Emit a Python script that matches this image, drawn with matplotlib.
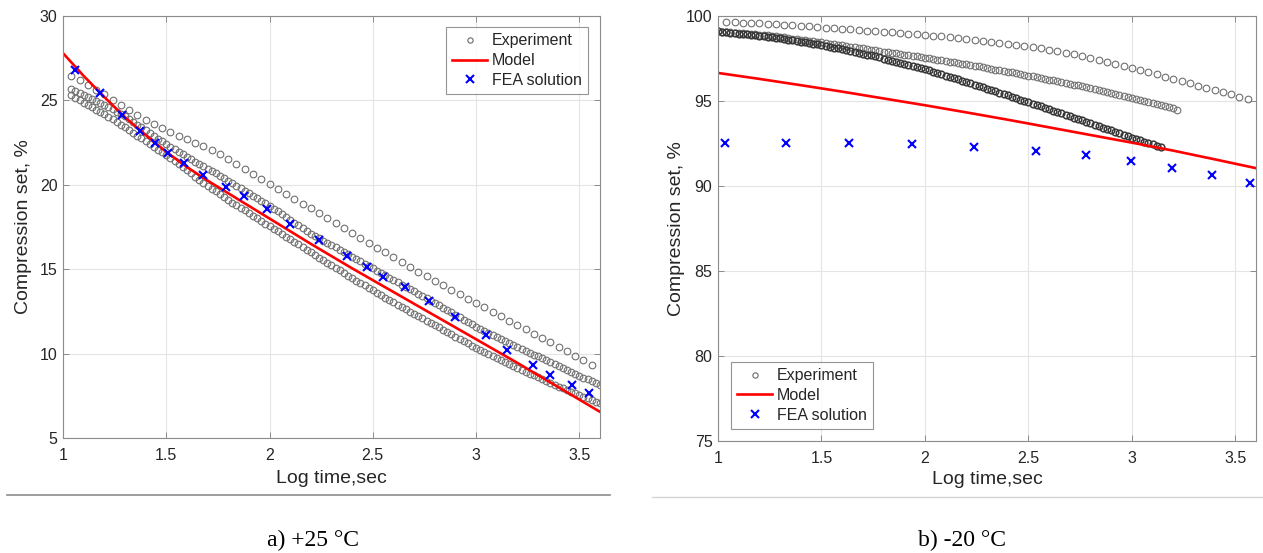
import numpy as np
import matplotlib
matplotlib.use("Agg")
from matplotlib import pyplot as plt
from matplotlib.lines import Line2D

# ---------------- +25 C ----------------
# experiment, sparse run (log time 1.04 .. 3.56)
a_exp1 = [26.45, 26.18, 25.91, 25.63, 25.35, 25.03, 24.71, 24.41, 24.13, 23.85,
          23.61, 23.37, 23.14, 22.92, 22.70, 22.50, 22.30, 22.08, 21.82, 21.55,
          21.25, 20.95, 20.65, 20.35, 20.05, 19.76, 19.47, 19.18, 18.89, 18.60,
          18.31, 18.02, 17.73, 17.44, 17.15, 16.86, 16.57, 16.28, 15.99, 15.70,
          15.42, 15.14, 14.86, 14.58, 14.30, 14.04, 13.78, 13.52, 13.26, 13.00,
          12.74, 12.48, 12.22, 11.96, 11.70, 11.44, 11.18, 10.92, 10.66, 10.40,
          10.14, 9.88, 9.61, 9.35]
a_exp1_t = (1.04, 3.56)

# experiment, dense runs (log time 1.04 .. 3.60)
a_exp2 = [25.70, 25.57, 25.43, 25.30, 25.19, 25.08, 24.97, 24.86, 24.75, 24.61,
          24.47, 24.33, 24.19, 24.05, 23.89, 23.73, 23.57, 23.41, 23.25, 23.08,
          22.91, 22.74, 22.57, 22.40, 22.25, 22.10, 21.95, 21.80, 21.65, 21.51,
          21.37, 21.23, 21.09, 20.95, 20.81, 20.67, 20.53, 20.39, 20.25, 20.10,
          19.95, 19.80, 19.65, 19.50, 19.35, 19.20, 19.05, 18.90, 18.75, 18.59,
          18.42, 18.26, 18.09, 17.93, 17.76, 17.60, 17.43, 17.27, 17.10, 16.97,
          16.83, 16.70, 16.56, 16.43, 16.29, 16.16, 16.02, 15.89, 15.75, 15.61,
          15.47, 15.33, 15.19, 15.05, 14.91, 14.77, 14.63, 14.49, 14.35, 14.22,
          14.08, 13.95, 13.81, 13.68, 13.54, 13.41, 13.27, 13.14, 13.00, 12.86,
          12.72, 12.58, 12.44, 12.30, 12.16, 12.02, 11.88, 11.74, 11.60, 11.48,
          11.36, 11.24, 11.12, 11.00, 10.88, 10.76, 10.64, 10.52, 10.40, 10.29,
          10.17, 10.06, 9.94, 9.83, 9.71, 9.60, 9.48, 9.37, 9.25, 9.14,
          9.03, 8.92, 8.81, 8.70, 8.58, 8.47, 8.36, 8.25, 8.14]
a_exp3 = [25.30, 25.15, 25.00, 24.85, 24.72, 24.59, 24.46, 24.33, 24.20, 24.04,
          23.88, 23.72, 23.56, 23.40, 23.24, 23.08, 22.92, 22.76, 22.60, 22.43,
          22.26, 22.09, 21.92, 21.75, 21.57, 21.39, 21.21, 21.03, 20.85, 20.67,
          20.49, 20.31, 20.13, 19.95, 19.78, 19.61, 19.44, 19.27, 19.10, 18.94,
          18.79, 18.63, 18.48, 18.32, 18.17, 18.01, 17.86, 17.70, 17.55, 17.40,
          17.24, 17.09, 16.93, 16.78, 16.62, 16.47, 16.31, 16.16, 16.00, 15.85,
          15.69, 15.54, 15.39, 15.24, 15.08, 14.93, 14.78, 14.62, 14.47, 14.33,
          14.18, 14.04, 13.89, 13.75, 13.61, 13.46, 13.32, 13.17, 13.03, 12.90,
          12.76, 12.63, 12.49, 12.36, 12.22, 12.09, 11.95, 11.82, 11.68, 11.55,
          11.41, 11.28, 11.14, 11.01, 10.87, 10.74, 10.60, 10.47, 10.33, 10.21,
          10.10, 9.98, 9.86, 9.74, 9.62, 9.51, 9.39, 9.27, 9.15, 9.04,
          8.93, 8.82, 8.71, 8.60, 8.49, 8.38, 8.27, 8.16, 8.05, 7.95,
          7.85, 7.75, 7.65, 7.55, 7.45, 7.35, 7.25, 7.15, 7.05]
a_exp23_t = (1.04, 3.60)

a_model_t = [1.0, 1.1, 1.2, 1.3, 1.4, 1.5, 1.6, 1.7, 1.8, 1.9, 2.0, 2.2, 2.4,
             2.6, 2.8, 3.0, 3.2, 3.4, 3.6]
a_model = [27.8, 26.45, 25.2, 24.0, 22.95, 21.95, 21.05, 20.25, 19.5, 18.75,
           18.0, 16.5, 15.05, 13.65, 12.25, 10.85, 9.45, 8.0, 6.55]

a_fea_t = [1.058, 1.18, 1.286, 1.373, 1.445, 1.508, 1.586, 1.678, 1.79, 1.876,
           1.987, 2.10, 2.24, 2.375, 2.47, 2.55, 2.655, 2.77, 2.90, 3.05,
           3.15, 3.275, 3.36, 3.465, 3.546]
a_fea = [26.8, 25.44, 24.14, 23.19, 22.48, 21.88, 21.29, 20.58, 19.87, 19.34,
         18.57, 17.68, 16.73, 15.78, 15.13, 14.54, 13.95, 13.12, 12.17, 11.1,
         10.2, 9.32, 8.73, 8.14, 7.67]

# ---------------- -20 C ----------------
b_exp1 = [99.65, 99.63, 99.61, 99.58, 99.56, 99.53, 99.51, 99.48, 99.46, 99.43,
          99.39, 99.36, 99.32, 99.29, 99.25, 99.21, 99.18, 99.14, 99.11, 99.07,
          99.04, 99.00, 98.97, 98.93, 98.90, 98.85, 98.80, 98.76, 98.71, 98.66,
          98.60, 98.55, 98.49, 98.44, 98.38, 98.31, 98.24, 98.16, 98.09, 98.02,
          97.93, 97.83, 97.74, 97.64, 97.55, 97.43, 97.31, 97.19, 97.07, 96.95,
          96.82, 96.69, 96.56, 96.43, 96.30, 96.17, 96.04, 95.91, 95.78, 95.65,
          95.52, 95.39, 95.26, 95.13]
b_exp1_t = (1.04, 3.56)

b_exp2 = [99.10, 99.08, 99.06, 99.04, 99.02, 99.00, 98.98, 98.96, 98.94, 98.92,
          98.90, 98.88, 98.86, 98.83, 98.80, 98.77, 98.74, 98.71, 98.67, 98.64,
          98.61, 98.58, 98.55, 98.51, 98.48, 98.45, 98.41, 98.38, 98.34, 98.31,
          98.27, 98.23, 98.20, 98.16, 98.13, 98.09, 98.05, 98.02, 97.98, 97.95,
          97.91, 97.87, 97.84, 97.80, 97.77, 97.73, 97.69, 97.66, 97.62, 97.59,
          97.55, 97.51, 97.47, 97.43, 97.39, 97.35, 97.31, 97.27, 97.23, 97.19,
          97.15, 97.11, 97.07, 97.03, 96.98, 96.94, 96.90, 96.85, 96.81, 96.76,
          96.72, 96.68, 96.63, 96.59, 96.54, 96.50, 96.45, 96.40, 96.36, 96.31,
          96.26, 96.21, 96.16, 96.12, 96.07, 96.02, 95.97, 95.92, 95.87, 95.82,
          95.76, 95.70, 95.65, 95.59, 95.54, 95.48, 95.42, 95.37, 95.31, 95.26,
          95.20, 95.14, 95.07, 95.01, 94.95, 94.88, 94.82, 94.75, 94.69, 94.63,
          94.56, 94.50]
b_exp2_t = (1.00, 3.22)

b_exp3 = [99.10, 99.07, 99.05, 99.02, 99.00, 98.97, 98.95, 98.92, 98.90, 98.87,
          98.84, 98.82, 98.79, 98.76, 98.72, 98.68, 98.65, 98.61, 98.57, 98.53,
          98.49, 98.45, 98.42, 98.38, 98.34, 98.30, 98.25, 98.20, 98.14, 98.09,
          98.04, 97.99, 97.94, 97.88, 97.83, 97.78, 97.73, 97.68, 97.62, 97.56,
          97.50, 97.43, 97.37, 97.31, 97.25, 97.19, 97.13, 97.06, 97.00, 96.94,
          96.88, 96.80, 96.72, 96.65, 96.57, 96.50, 96.42, 96.35, 96.27, 96.19,
          96.12, 96.04, 95.97, 95.89, 95.81, 95.73, 95.65, 95.57, 95.49, 95.41,
          95.33, 95.24, 95.16, 95.08, 95.00, 94.92, 94.84, 94.76, 94.68, 94.59,
          94.51, 94.43, 94.35, 94.27, 94.18, 94.10, 94.02, 93.94, 93.86, 93.77,
          93.69, 93.60, 93.52, 93.43, 93.35, 93.27, 93.18, 93.10, 93.01, 92.93,
          92.85, 92.77, 92.69, 92.61, 92.54, 92.46, 92.38, 92.30]
b_exp3_t = (1.00, 3.14)

b_model_t = [1.0, 1.2, 1.4, 1.6, 1.8, 2.0, 2.2, 2.4, 2.6, 2.8, 3.0, 3.2, 3.4, 3.6]
b_model = [96.65, 96.3, 95.93, 95.55, 95.15, 94.75, 94.33, 93.9, 93.45, 93.0,
           92.55, 92.08, 91.57, 91.05]

b_fea_t = [1.034, 1.33, 1.633, 1.936, 2.235, 2.536, 2.778, 2.996, 3.196, 3.387, 3.573]
b_fea = [92.55, 92.55, 92.51, 92.45, 92.31, 92.08, 91.82, 91.47, 91.08, 90.65, 90.16]

x_ticks = [1, 1.5, 2, 2.5, 3, 3.5]
x_ticklabels = ['1', '1.5', '2', '2.5', '3', '3.5']

plt.rcParams['font.family'] = ['Liberation Sans', 'DejaVu Sans']
txt = '#262626'
W, H = 1263, 553
fig = plt.figure(figsize=(W / 100, H / 100), dpi=100)

ax1 = fig.add_axes([63 / W, 1 - 438 / H, 537 / W, 422 / H])
ax2 = fig.add_axes([718 / W, 1 - 441 / H, 538 / W, 425 / H])


def grid_of(lo, hi, n):
    return np.linspace(lo, hi, n)


def draw(ax, exps, model_t, model, fea_t, fea):
    for (t, y, ec, mew) in exps:
        ax.plot(grid_of(t[0], t[1], len(y)), y, 'o', ms=4.8, mfc='none',
                mec=ec, mew=mew, label='_nolegend_')
    ax.plot([], [], 'o', ms=3.8, mfc='none', mec='#6a6a6a', mew=0.8,
            label='Experiment')
    ax.plot(model_t, model, color='red', lw=1.9, label='Model')
    ax.plot(fea_t, fea, 'x', color='blue', ms=6, mew=1.5,
            label='FEA solution')
    ax.set_xlim(1, 3.6)
    ax.set_xticks(x_ticks)
    ax.set_xticklabels(x_ticklabels)
    ax.grid(True, color='#e4e4e4', lw=0.8)
    ax.set_axisbelow(True)
    for s in ax.spines.values():
        s.set_color('#8c8c8c')
        s.set_linewidth(0.8)
    ax.tick_params(direction='in', length=4, width=0.7, color='#8c8c8c',
                   top=True, right=True, labelsize=11.5, labelcolor=txt)
    ax.tick_params(axis='x', pad=7)
    ax.tick_params(axis='y', pad=4)
    ax.set_xlabel('Log time,sec', fontsize=14, color=txt)
    ax.set_ylabel('Compression set, %', fontsize=14, color=txt)


draw(ax1, [(a_exp1_t, a_exp1, '#707070', 0.8),
           (a_exp23_t, a_exp2, '#707070', 0.8),
           (a_exp23_t, a_exp3, '#707070', 0.8)],
     a_model_t, a_model, a_fea_t, a_fea)
ax1.set_ylim(5, 30)
ax1.set_yticks([5, 10, 15, 20, 25, 30])
ax1.xaxis.set_label_coords(0.5, -0.075)
ax1.yaxis.set_label_coords(-0.058, 0.5)

draw(ax2, [(b_exp1_t, b_exp1, '#707070', 0.8),
           (b_exp2_t, b_exp2, '#707070', 0.8),
           (b_exp3_t, b_exp3, '#383838', 1.1)],
     b_model_t, b_model, b_fea_t, b_fea)
ax2.set_ylim(75, 100)
ax2.set_yticks([75, 80, 85, 90, 95, 100])
ax2.xaxis.set_label_coords(0.5, -0.07)
ax2.yaxis.set_label_coords(-0.062, 0.5)

leg_kw = dict(fontsize=11.5, frameon=True, fancybox=False, borderaxespad=0,
              borderpad=0.4, labelspacing=0.3, handlelength=2.2,
              handletextpad=0.3, labelcolor=txt)
l1 = ax1.legend(loc='upper right', bbox_to_anchor=(0.978, 0.974), **leg_kw)
l2 = ax2.legend(loc='lower left', bbox_to_anchor=(0.024, 0.028), **leg_kw)
for lg in (l1, l2):
    lg.get_frame().set_edgecolor('#7a7a7a')
    lg.get_frame().set_linewidth(0.8)

# separators under each panel and panel captions
fig.add_artist(Line2D([7 / W, 610 / W], [1 - 495 / H] * 2, color='#8c8c8c', lw=1.2))
fig.add_artist(Line2D([652 / W, 1.0], [1 - 497 / H] * 2, color='#d4d4d4', lw=1.0))
fig.text(313 / W, 1 - 540 / H, 'a) +25 °C', family='Liberation Serif',
         fontsize=17, ha='center', va='center', color='black')
fig.text(962 / W, 1 - 540 / H, 'b) -20 °C', family='Liberation Serif',
         fontsize=17, ha='center', va='center', color='black')

fig.savefig('out.png', dpi=100, facecolor='white')
